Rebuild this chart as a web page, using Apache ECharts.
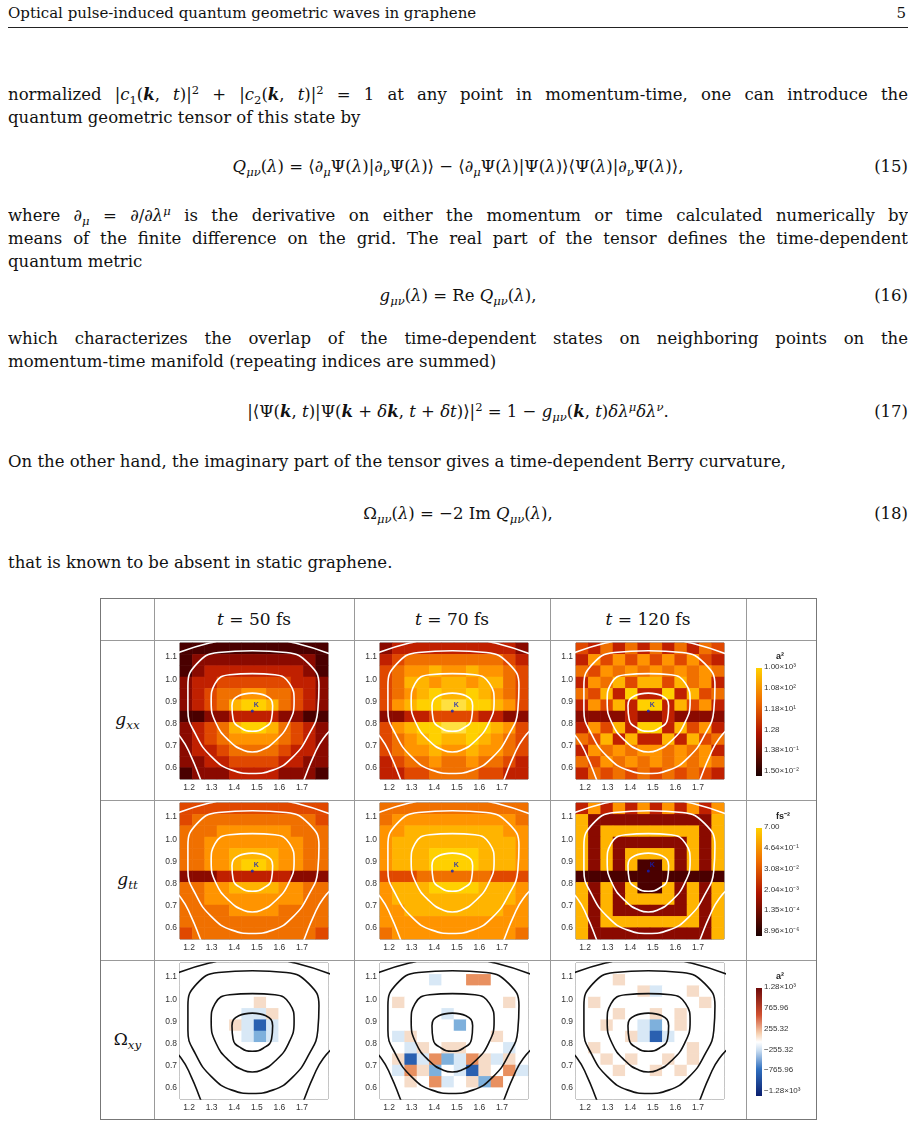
<!DOCTYPE html>
<html><head><meta charset="utf-8">
<script src="https://cdn.jsdelivr.net/npm/echarts@6/dist/echarts.min.js"></script>
<style>
body{margin:0;width:916px;height:1127px;background:#fff;position:relative;font-family:"DejaVu Serif",serif;color:#111;overflow:hidden}
.ln{position:absolute;left:8px;width:900px;font-size:16.5px;line-height:22px;white-space:nowrap}
.j{text-align:justify;text-align-last:justify;white-space:normal;height:22px;overflow:hidden}
.eq{position:absolute;left:8px;width:900px;font-size:16.5px;line-height:22px;text-align:center}
.num{position:absolute;right:8px;font-size:16.5px;line-height:22px}
sub,sup{font-size:70%;line-height:0}
#tbl{position:absolute;left:100px;top:598px;width:717px;height:522px;border:1px solid #777;box-sizing:border-box}
.vl{position:absolute;top:0;bottom:0;width:1px;background:#999}
.hl{position:absolute;left:0;right:0;height:1px;background:#999}
.hd{position:absolute;top:10px;font-size:17px;text-align:center}
.rl{position:absolute;left:0;width:53px;font-size:17px;text-align:center}
#chart{position:absolute;left:100px;top:598px;width:717px;height:522px}
</style></head><body>
<div style="position:absolute;left:8px;top:4px;font-size:15px">Optical pulse-induced quantum geometric waves in graphene</div>
<div style="position:absolute;right:10px;top:4px;font-size:15px">5</div>
<div style="position:absolute;left:8px;top:27px;width:900px;height:1px;background:#222"></div>

<div class="ln j" style="top:84px">normalized |<i>c</i><sub>1</sub>(<b><i>k</i></b>, <i>t</i>)|<sup>2</sup> + |<i>c</i><sub>2</sub>(<b><i>k</i></b>, <i>t</i>)|<sup>2</sup> = 1 at any point in momentum-time, one can introduce the</div>
<div class="ln" style="top:107px">quantum geometric tensor of this state by</div>
<div class="eq" style="top:156px"><i>Q</i><sub><i>μν</i></sub>(<i>λ</i>) = ⟨∂<sub><i>μ</i></sub>Ψ(<i>λ</i>)|∂<sub><i>ν</i></sub>Ψ(<i>λ</i>)⟩ − ⟨∂<sub><i>μ</i></sub>Ψ(<i>λ</i>)|Ψ(<i>λ</i>)⟩⟨Ψ(<i>λ</i>)|∂<sub><i>ν</i></sub>Ψ(<i>λ</i>)⟩,</div>
<div class="num" style="top:156px">(15)</div>
<div class="ln j" style="top:205px">where ∂<sub><i>μ</i></sub> = ∂/∂<i>λ</i><sup><i>μ</i></sup> is the derivative on either the momentum or time calculated numerically by</div>
<div class="ln j" style="top:228px">means of the finite difference on the grid. The real part of the tensor defines the time-dependent</div>
<div class="ln" style="top:251px">quantum metric</div>
<div class="eq" style="top:285px"><i>g</i><sub><i>μν</i></sub>(<i>λ</i>) = Re <i>Q</i><sub><i>μν</i></sub>(<i>λ</i>),</div>
<div class="num" style="top:285px">(16)</div>
<div class="ln j" style="top:328px">which characterizes the overlap of the time-dependent states on neighboring points on the</div>
<div class="ln" style="top:351px">momentum-time manifold (repeating indices are summed)</div>
<div class="eq" style="top:401px">|⟨Ψ(<b><i>k</i></b>, <i>t</i>)|Ψ(<b><i>k</i></b> + <i>δ</i><b><i>k</i></b>, <i>t</i> + <i>δt</i>)⟩|<sup>2</sup> = 1 − <i>g</i><sub><i>μν</i></sub>(<b><i>k</i></b>, <i>t</i>)<i>δλ</i><sup><i>μ</i></sup><i>δλ</i><sup><i>ν</i></sup>.</div>
<div class="num" style="top:401px">(17)</div>
<div class="ln" style="top:451px">On the other hand, the imaginary part of the tensor gives a time-dependent Berry curvature,</div>
<div class="eq" style="top:503px">Ω<sub><i>μν</i></sub>(<i>λ</i>) = −2 Im <i>Q</i><sub><i>μν</i></sub>(<i>λ</i>),</div>
<div class="num" style="top:503px">(18)</div>
<div class="ln" style="top:552px">that is known to be absent in static graphene.</div>

<div id="tbl">
<div class="vl" style="left:53px"></div><div class="vl" style="left:253px"></div><div class="vl" style="left:449px"></div><div class="vl" style="left:645px"></div>
<div class="hl" style="top:41px"></div><div class="hl" style="top:201px"></div><div class="hl" style="top:361px"></div>
<div class="hd" style="left:53px;width:200px"><i>t</i> = 50 fs</div>
<div class="hd" style="left:253px;width:196px"><i>t</i> = 70 fs</div>
<div class="hd" style="left:449px;width:196px"><i>t</i> = 120 fs</div>
<div class="rl" style="top:110px"><i>g</i><sub><i>xx</i></sub></div>
<div class="rl" style="top:270px"><i>g</i><sub><i>tt</i></sub></div>
<div class="rl" style="top:430px">Ω<sub><i>xy</i></sub></div>
</div>
<div id="chart"></div>
<script>
const xTicks=[1.2,1.3,1.4,1.5,1.6,1.7];
const yTicks=[0.6,0.7,0.8,0.9,1.0,1.1];
const gxx50=["111111111111","122222222221","123333333321","233444444332","234556655432","234578875432","112233332211","234578875432","234566665432","233455554332","223344443322","122233332221"];
const gxx70=["233333333332","345555555543","456676676654","457767767754","456787787654","467889988764","223344443322","467889988764","456787787654","456676676654","345565565543","334455554433"];
const gxx120=["435353535354","364646464643","546565656565","365747747563","547383383745","364738837463","222232232222","364738837463","547373373745","365656656563","546565656565","354545454543"];
const gtt50=["444444444444","455555555554","555666666555","556666666655","556677776655","556678876655","222333333222","556677776655","556666666655","555566665555","555555555555","455555555554"];
const gtt70=["555555555555","566666666665","667777777766","677777777776","677788887776","677788887776","444555555444","677788887776","677777777776","667777777766","666666666666","566666666665"];
const gtt120=["363636363636","722222222227","727777777727","727222222727","727277772727","727271172727","111111111111","727271172727","727277772727","727222222727","727777777727","722222222227"];
const om50=["444444444444","444444444444","444444444444","444444544444","444443354444","444453134444","444443234444","444444444444","444444444444","444444444444","444444444444","444444444444"];
const om70=["444444444444","444434466444","444444444444","454444444454","444443444444","444444244444","435444444544","443545544434","451362365354","436524315463","445463452644","444444444444"];
const om120=["444444444444","444544444444","444445344544","454444444454","444544545444","445443245444","444453134444","454444444544","445454454544","444544545444","444444444444","444444444444"];
const cInner=[[1.48,0.937],[1.54,0.925],[1.57,0.88],[1.565,0.82],[1.53,0.78],[1.48,0.765],[1.43,0.78],[1.395,0.82],[1.39,0.88],[1.42,0.925],[1.48,0.937]];
const cMid=[[1.48,1.025],[1.58,1.02],[1.645,0.98],[1.665,0.9],[1.64,0.8],[1.58,0.72],[1.52,0.68],[1.48,0.672],[1.44,0.68],[1.38,0.72],[1.32,0.8],[1.298,0.9],[1.315,0.98],[1.38,1.02],[1.48,1.025]];
const cOuter=[[1.48,1.128],[1.63,1.12],[1.73,1.07],[1.775,0.97],[1.77,0.86],[1.73,0.75],[1.66,0.65],[1.57,0.59],[1.48,0.575],[1.39,0.59],[1.3,0.65],[1.23,0.75],[1.195,0.86],[1.195,0.97],[1.235,1.07],[1.33,1.12],[1.48,1.128]];
const cTop=[[1.08,1.09],[1.29,1.163],[1.48,1.19],[1.67,1.163],[1.88,1.09]];
const cBL=[[1.10,0.80],[1.166,0.733],[1.21,0.65],[1.25,0.55],[1.27,0.50]];
const cBR=[[1.86,0.80],[1.794,0.733],[1.75,0.65],[1.71,0.55],[1.69,0.50]];
const kPoint=[1.48,0.857];
const panels=[[gxx50,gxx70,gxx120],[gtt50,gtt70,gtt120],[om50,om70,om120]];
const cbLabels=[["1.00×10³","1.08×10²","1.18×10¹","1.28","1.38×10⁻¹","1.50×10⁻²"],["7.00","4.64×10⁻¹","3.08×10⁻²","2.04×10⁻³","1.35×10⁻⁴","8.96×10⁻⁶"],["1.28×10³","765.96","255.32","−255.32","−765.96","−1.28×10³"]];
const cbTitles=["a²","fs⁻²","a²"];
const gColors=['#1a0000','#4a0000','#8a0a00','#c02000','#e04800','#f07000','#ff9400','#ffb400','#ffd000','#ffe040'];
const oColors=['#0a1e6e','#2a60b0','#7eb0dc','#d8e8f6','#ffffff','#f6dcc8','#e89060','#c03020','#6e0a0a'];

const colX=[53,253,449], XMIN=1.16,XMAX=1.815,YMIN=0.55,YMAX=1.163;
const grid=[],xAxis=[],yAxis=[],series=[],visualMap=[],graphic=[];
const hmIdx=[[],[],[]];
for(let r=0;r<3;r++)for(let c=0;c<3;c++){
  const gi=grid.length;
  grid.push({left:colX[c]+27,top:45+r*160,width:148,height:136,show:true,borderColor:'#666',borderWidth:1,backgroundColor:'transparent'});
  const cats=[...Array(12).keys()];
  xAxis.push({gridIndex:gi,type:'category',data:cats,show:false});
  yAxis.push({gridIndex:gi,type:'category',data:cats.slice().reverse(),show:false});
  xAxis.push({gridIndex:gi,type:'value',position:'bottom',min:XMIN,max:XMAX,splitLine:{show:false},axisLine:{show:false},
    axisTick:{inside:true,length:3,customValues:xTicks,lineStyle:{color:'#555'}},
    axisLabel:{customValues:xTicks,fontSize:8.5,color:'#333',margin:4,formatter:v=>v.toFixed(1),fontFamily:'Liberation Sans'}});
  yAxis.push({gridIndex:gi,type:'value',position:'left',min:YMIN,max:YMAX,splitLine:{show:false},axisLine:{show:false},
    axisTick:{inside:true,length:3,customValues:yTicks,lineStyle:{color:'#555'}},
    axisLabel:{customValues:yTicks,fontSize:8.5,color:'#333',margin:3,formatter:v=>v.toFixed(1),fontFamily:'Liberation Sans'}});
  const grid12=panels[r][c], data=[];
  grid12.forEach((row,ri)=>{for(let ci=0;ci<row.length;ci++)data.push([ci,11-ri,+row[ci]]);});
  hmIdx[r].push(series.length);
  series.push({type:'heatmap',xAxisIndex:2*gi,yAxisIndex:2*gi,data,itemStyle:{borderWidth:0},emphasis:{disabled:true}});
  const lc=r<2?'#ffffff':'#111111';
  [cInner,cMid,cOuter,cTop,cBL,cBR].forEach(cd=>{
    series.push({type:'line',xAxisIndex:2*gi+1,yAxisIndex:2*gi+1,data:cd,smooth:0.5,symbol:'none',clip:true,lineStyle:{color:lc,width:1.6},silent:true});
  });
  if(r<2) series.push({type:'scatter',xAxisIndex:2*gi+1,yAxisIndex:2*gi+1,data:[kPoint],symbolSize:3,itemStyle:{color:'#1020c0'},
    label:{show:true,formatter:'K',position:[3,-8],fontSize:7,color:'#1020c0',fontWeight:'bold'}});
}
visualMap.push({show:false,min:0,max:9,seriesIndex:hmIdx[0],inRange:{color:gColors}});
visualMap.push({show:false,min:0,max:9,seriesIndex:hmIdx[1],inRange:{color:gColors}});
visualMap.push({show:false,min:0,max:8,seriesIndex:hmIdx[2],inRange:{color:oColors}});
for(let r=0;r<3;r++){
  const top=42+r*160+28, h=108;
  const stops=r<2?[{offset:0,color:'#ffd000'},{offset:0.3,color:'#f07000'},{offset:0.6,color:'#b01500'},{offset:1,color:'#1a0000'}]
    :[{offset:0,color:'#6e0a0a'},{offset:0.25,color:'#d05030'},{offset:0.42,color:'#f6d0b0'},{offset:0.5,color:'#ffffff'},{offset:0.58,color:'#c8dcf0'},{offset:0.75,color:'#3070c0'},{offset:1,color:'#0a1e6e'}];
  graphic.push({type:'rect',left:656,top:top,shape:{width:6,height:h},style:{fill:new echarts.graphic.LinearGradient(0,0,0,1,stops)}});
  graphic.push({type:'text',left:676,top:top-16,style:{text:cbTitles[r],font:'bold 9px Liberation Sans',fill:'#222'}});
  cbLabels[r].forEach((t,i)=>graphic.push({type:'text',left:664,top:top-5+i*h/5.2,style:{text:t,font:'8px Liberation Sans',fill:'#333'}}));
}
const ch=echarts.init(document.getElementById('chart'));
ch.setOption({animation:false,backgroundColor:'transparent',grid,xAxis,yAxis,series,visualMap,graphic});
</script>
</body></html>
